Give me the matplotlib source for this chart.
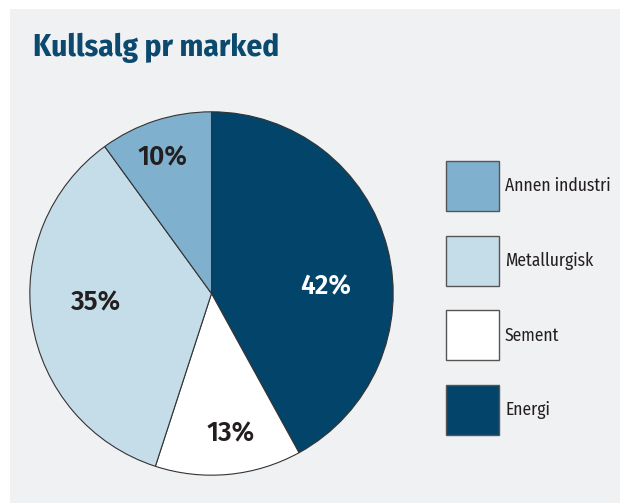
import matplotlib
matplotlib.use("Agg")
import matplotlib.pyplot as plt
from matplotlib.patches import Rectangle

categories = ["Energi", "Sement", "Metallurgisk", "Annen industri"]
values = [42, 13, 35, 10]
colors = ["#03446a", "#ffffff", "#c5dde8", "#7fb1cf"]
label_colors = ["#ffffff", "#231f20", "#231f20", "#231f20"]
legend_order = ["Annen industri", "Metallurgisk", "Sement", "Energi"]
title = "Kullsalg pr marked"

FONT = ["Fira Sans Condensed", "PT Sans Narrow", "DejaVu Sans"]
PCT_FONT = ["Fira Sans", "DejaVu Sans"]
W, H = 620, 503
fig = plt.figure(figsize=(W / 100, H / 100), dpi=100)
fig.patch.set_facecolor("white")
fig.patches.append(Rectangle((10 / W, 0), 1 - 10 / W, (H - 9) / H,
                             transform=fig.transFigure, facecolor="#f0f1f3",
                             edgecolor="none", zorder=-5))

cx, cy, r = 211.5, 293.5, 183.5
ax = fig.add_axes([(cx - r) / W, (H - cy - r) / H, 2 * r / W, 2 * r / H])
ax.set_zorder(2)
ax.set_facecolor("none")
wedges, texts = ax.pie(values, colors=colors, startangle=90, counterclock=False,
                       wedgeprops=dict(edgecolor="#333333", linewidth=0.8))
ax.set_xlim(-1.01, 1.01)
ax.set_ylim(-1.01, 1.01)

label_pos = [(0.626, 0.04), (0.106, -0.77), (-0.635, -0.05), (-0.27, 0.75)]
for v, (x, y), c in zip(values, label_pos, label_colors):
    ax.text(x, y, f"{v}%", ha="center", va="center", color=c,
            fontsize=19, fontweight="semibold", family=PCT_FONT)

fig.text(33 / W, 1 - 48 / H, title, ha="left", va="center", color="#0b4a6e",
         fontsize=22.5, fontweight="bold", family=FONT)

# legend
face = dict(zip(categories, colors))
box_x, box_w, box_h, top0, pitch = 446, 53, 50, 161, 74.7
for i, name in enumerate(legend_order):
    top = top0 + i * pitch
    fig.patches.append(Rectangle((box_x / W, 1 - (top + box_h) / H), box_w / W, box_h / H,
                                 transform=fig.transFigure, facecolor=face[name],
                                 edgecolor="#555555", linewidth=1, zorder=3))
    fig.text((box_x + box_w + 6) / W, 1 - (top + box_h / 2) / H, name,
             ha="left", va="center", color="#231f20", fontsize=12.6, family=FONT)

fig.savefig("out.png", dpi=100)
